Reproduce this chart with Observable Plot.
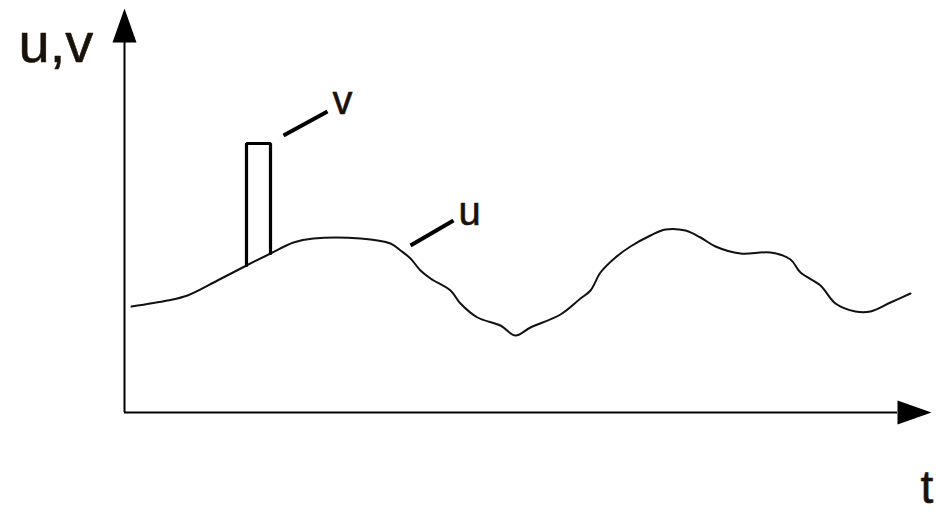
<!DOCTYPE html>
<html>
<head>
<meta charset="utf-8">
<script src="https://cdn.jsdelivr.net/npm/d3@7"></script>
<script src="https://cdn.jsdelivr.net/npm/@observablehq/plot@0.6"></script>
<style>
  html, body { margin: 0; padding: 0; background: #fff; }
</style>
</head>
<body>
<div id="chart"></div>
<script>
// u(t): slowly varying signal (arbitrary units)
const uT = [0.7, 4.3, 6.3, 9.3, 12.2, 14.6, 16.9, 18.9, 23.6, 26.6, 27.6, 28.6, 29.6, 30.6, 32.6, 33.6, 35.3, 37.6, 39.1, 40.6, 43.6, 45.6, 46.6, 47.6, 49.1, 50.6, 52.6, 54.1, 56.1, 57.6, 59.1, 61.6, 64.6, 66.6, 67.6, 69.6, 71.1, 73.1, 74.6, 76.6, 78.6];
const uV = [10.6, 11.2, 11.7, 13.2, 14.7, 15.9, 17.0, 17.4, 17.4, 16.9, 16.2, 15.4, 14.2, 13.4, 12.2, 10.9, 9.5, 8.7, 7.7, 8.5, 9.8, 11.4, 12.2, 14.0, 15.5, 16.6, 17.7, 18.3, 18.2, 17.5, 16.6, 15.9, 16.0, 15.3, 14.0, 12.7, 10.9, 10.1, 10.1, 11.0, 11.9];
// v(t): short rectangular pulse riding on u
const vT = [12.2, 12.2, 14.6, 14.6];
const vV = [14.7, 26.9, 26.9, 15.9];
// axis extents
const xAxisEnd = 77.3;
const yAxisEnd = 37;
// labels
const labels = [
  {t: -10.6, u: 36.8, text: "u,v", size: 56},
  {t: 20.8, u: 31.1, text: "v", size: 40},
  {t: 33.4, u: 20.0, text: "u", size: 40},
  {t: 79.6, u: -7.53, text: "t", size: 46}
];
// leader lines from labels to curves
const leaders = [
  {t1: 15.9, u1: 27.7, t2: 20.3, u2: 30.1},
  {t1: 28.6, u1: 16.7, t2: 32.9, u2: 19.2}
];

const uData = uT.map((t, i) => ({t, u: uV[i]}));
const vData = vT.map((t, i) => ({t, u: vV[i]}));
const heads = [
  {t: 0, u: yAxisEnd, rotate: 0},
  {t: xAxisEnd, u: 0, rotate: 90}
];
const arrowHead = {
  draw(context) {
    context.moveTo(0, -34);
    context.lineTo(12, 0);
    context.lineTo(-12, 0);
    context.closePath();
  }
};

const font = "'Liberation Sans', Arial, sans-serif";

const chart = Plot.plot({
  width: 936,
  height: 514,
  margin: 0,
  x: {domain: [0, 80], range: [124, 924], axis: null},
  y: {domain: [0, 40], range: [412, 12], axis: null},
  style: {background: "#fff", fontFamily: font, overflow: "visible"},
  marks: [
    Plot.ruleX([0], {y1: 0, y2: yAxisEnd, stroke: "#000", strokeWidth: 2}),
    Plot.ruleY([0], {x1: 0, x2: xAxisEnd, stroke: "#000", strokeWidth: 2}),
    Plot.dot(heads, {x: "t", y: "u", rotate: "rotate", symbol: arrowHead, fill: "#000", stroke: "none"}),
    Plot.line(uData, {x: "t", y: "u", stroke: "#111", strokeWidth: 2, curve: "catmull-rom"}),
    Plot.line(vData, {x: "t", y: "u", stroke: "#000", strokeWidth: 3.2, strokeLinejoin: "miter"}),
    Plot.link(leaders, {x1: "t1", y1: "u1", x2: "t2", y2: "u2", stroke: "#000", strokeWidth: 4}),
    Plot.text(labels, {x: "t", y: "u", text: "text", fontSize: d => d.size, textAnchor: "start", lineAnchor: "middle",
      fill: "#1a1208", stroke: "#1a1208", strokeWidth: 0.6, fontFamily: font})
  ]
});
document.getElementById("chart").appendChild(chart);
</script>
</body>
</html>
